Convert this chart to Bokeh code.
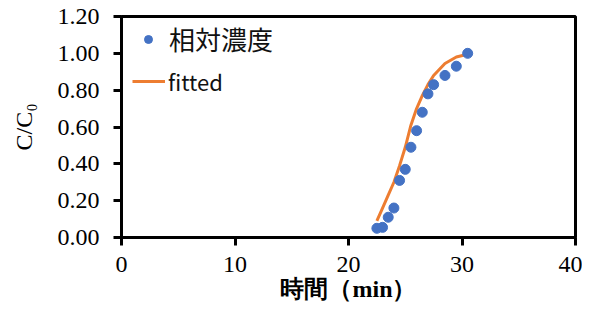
from bokeh.plotting import figure
from bokeh.models import Range1d, FixedTicker, NumeralTickFormatter, Legend, LegendItem
from bokeh.embed import file_html
from bokeh.resources import INLINE

# Data
time_min = [22.5, 23.0, 23.5, 24.0, 24.5, 25.0, 25.5, 26.0, 26.5, 27.0, 27.5, 28.5, 29.5, 30.5]
rel_conc = [0.05, 0.055, 0.11, 0.16, 0.31, 0.37, 0.49, 0.58, 0.68, 0.78, 0.83, 0.88, 0.93, 1.00]
fitted = [0.09, 0.16, 0.23, 0.30, 0.39, 0.49, 0.61, 0.70, 0.77, 0.83, 0.88, 0.945, 0.98, 0.995]

x_ticks = [0, 10, 20, 30, 40]
y_ticks = [0.0, 0.2, 0.4, 0.6, 0.8, 1.0, 1.2]

series_label = "相対濃度"
fit_label = "fitted"
x_title = "時間（min）"
y_title = "C/C₀"

BLUE = "#4472C4"
ORANGE = "#ED7D31"

p = figure(width=582, height=304, output_backend="svg", toolbar_location=None,
           x_range=Range1d(0, 40), y_range=Range1d(0, 1.2),
           min_border_left=121, min_border_right=7, min_border_top=16, min_border_bottom=67)

p.background_fill_color = "white"
p.border_fill_color = "white"
p.outline_line_color = "black"
p.outline_line_width = 3
p.xgrid.visible = False
p.ygrid.visible = False

line_r = p.line(time_min, fitted, line_color=ORANGE, line_width=3)
pts_r = p.scatter(time_min, rel_conc, size=10, fill_color=BLUE, line_color=BLUE)

for ax in (p.xaxis[0], p.yaxis[0]):
    ax.axis_line_color = "black"
    ax.axis_line_width = 3
    ax.major_tick_line_color = "black"
    ax.major_tick_line_width = 3
    ax.major_tick_in = 0
    ax.major_tick_out = 8
    ax.minor_tick_line_color = None
    ax.major_label_text_font = "Liberation Serif"
    ax.major_label_text_font_size = "24px"
    ax.major_label_text_color = "black"
    ax.axis_label_text_font_style = "normal"
    ax.axis_label_text_color = "black"

p.xaxis.ticker = FixedTicker(ticks=x_ticks)
p.yaxis.ticker = FixedTicker(ticks=y_ticks)
p.yaxis.formatter = NumeralTickFormatter(format="0.00")
p.xaxis.major_label_standoff = 11
p.yaxis.major_label_standoff = 14

p.xaxis.axis_label = x_title
p.xaxis.axis_label_text_font = "Liberation Serif"
p.xaxis.axis_label_text_font_size = "24px"
p.xaxis.axis_label_text_font_style = "bold"
p.xaxis.axis_label_standoff = 1

p.yaxis.axis_label = y_title
p.yaxis.axis_label_text_font = "Liberation Serif"
p.yaxis.axis_label_text_font_size = "24px"
p.yaxis.axis_label_standoff = 18

leg1 = Legend(items=[LegendItem(label=series_label, renderers=[pts_r])],
              location=(17, 180), padding=0, margin=0, spacing=0,
              glyph_width=20, glyph_height=20, label_standoff=11,
              label_text_font="Noto Sans CJK JP", label_text_font_size="26px",
              label_text_color="#111111", background_fill_alpha=0, border_line_color=None)
leg2 = Legend(items=[LegendItem(label=fit_label, renderers=[line_r])],
              location=(11, 140), padding=0, margin=0, spacing=0,
              glyph_width=33, glyph_height=20, label_standoff=3,
              label_text_font="Noto Sans CJK JP", label_text_font_size="22px",
              label_text_color="#111111", background_fill_alpha=0, border_line_color=None)
p.add_layout(leg1, "center")
p.add_layout(leg2, "center")

open("out.html", "w").write(file_html(p, INLINE))
